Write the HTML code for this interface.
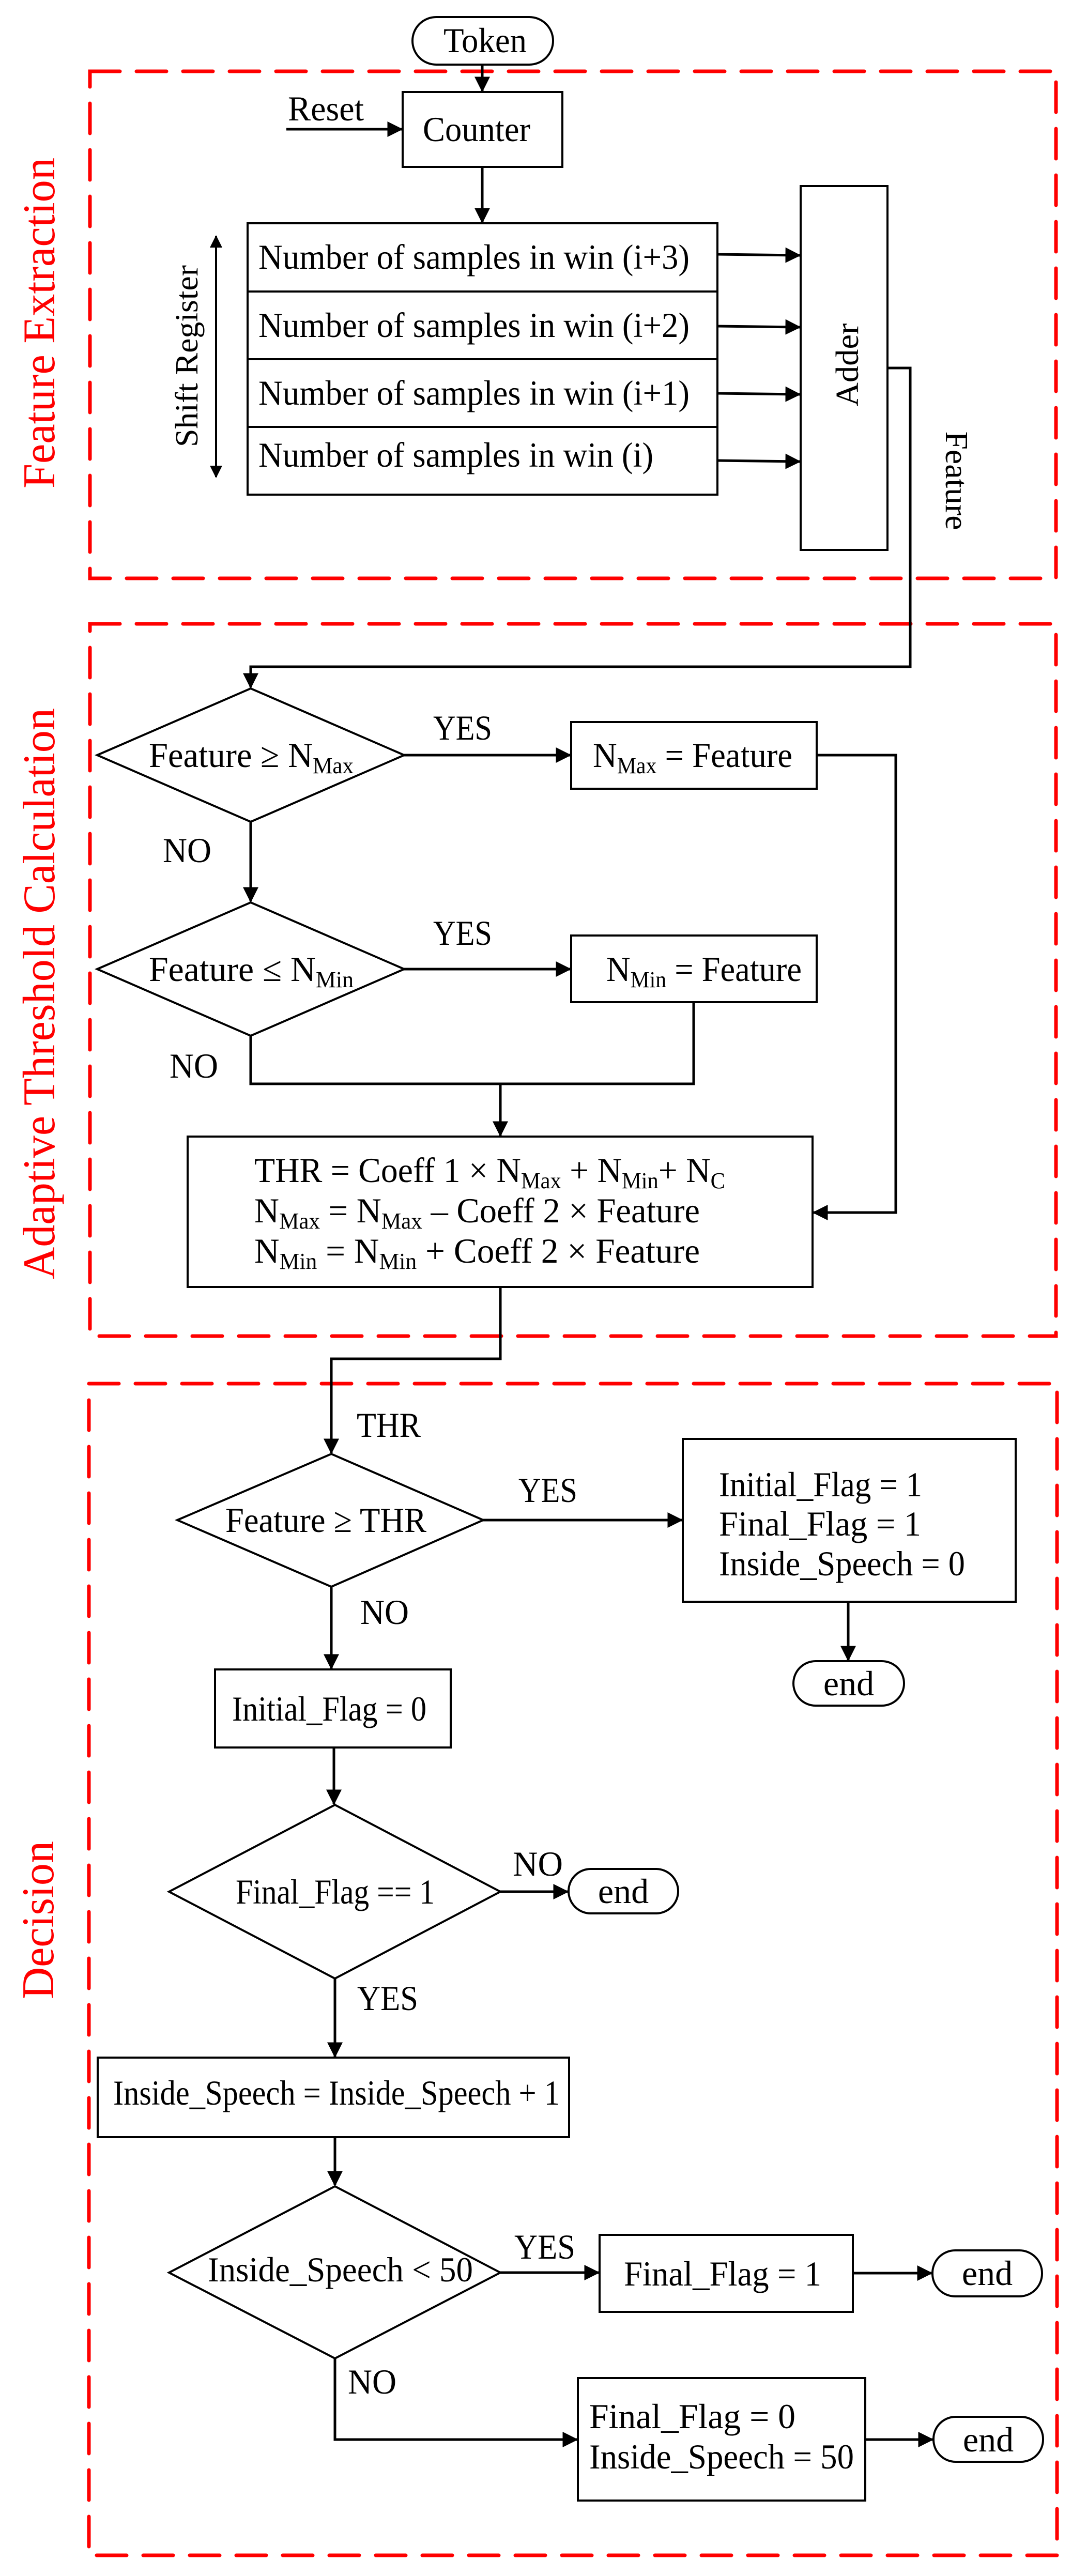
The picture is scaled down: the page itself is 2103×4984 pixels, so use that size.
<!DOCTYPE html>
<html><head><meta charset="utf-8"><style>html,body{margin:0;padding:0;background:#fff}svg{display:block}text{font-family:"Liberation Serif",serif;fill:#000}</style></head>
<body>
<svg width="2103" height="4984" viewBox="0 0 2103 4984" xmlns="http://www.w3.org/2000/svg">
<defs>
<marker id="a" markerWidth="6" markerHeight="6" refX="5.5" refY="3" orient="auto" markerUnits="strokeWidth"><path d="M0,0 L6,3 L0,6 z" fill="#000"/></marker>
<marker id="b" markerWidth="6" markerHeight="6" refX="5.5" refY="3" orient="auto-start-reverse" markerUnits="strokeWidth"><path d="M0,0 L6,3 L0,6 z" fill="#000"/></marker>
</defs>
<g fill="none" stroke="#f00" stroke-width="7" stroke-dasharray="58 32" stroke-linecap="round">
<rect x="174" y="138" width="1869" height="981"/>
<rect x="174" y="1207" width="1869" height="1378"/>
<rect x="172" y="2677" width="1873" height="2267"/>
</g>
<g font-size="88" style="fill:#f00">
<text x="105" y="945" transform="rotate(-90 105 945)" textLength="640" lengthAdjust="spacingAndGlyphs" style="fill:#f00">Feature Extraction</text>
<text x="105" y="2475" transform="rotate(-90 105 2475)" textLength="1105" lengthAdjust="spacingAndGlyphs" style="fill:#f00">Adaptive Threshold Calculation</text>
<text x="103" y="3868" transform="rotate(-90 103 3868)" textLength="306" lengthAdjust="spacingAndGlyphs" style="fill:#f00">Decision</text>
</g>
<g fill="#fff" stroke="#000" stroke-width="4">
<rect x="798" y="33" width="272" height="92" rx="46"/>
<rect x="779" y="178" width="309" height="145"/>
<rect x="479" y="432" width="909" height="525"/>
<line x1="479" y1="564" x2="1388" y2="564"/>
<line x1="479" y1="695" x2="1388" y2="695"/>
<line x1="479" y1="826" x2="1388" y2="826"/>
<rect x="1549" y="360" width="168" height="704"/>
<polygon points="188,1461 485,1332 782,1461 485,1590"/>
<rect x="1105" y="1397" width="475" height="129"/>
<polygon points="188,1875 485,1746 782,1875 485,2004"/>
<rect x="1105" y="1810" width="475" height="129"/>
<rect x="363" y="2199" width="1209" height="291"/>
<polygon points="343,2941 641,2813 935,2941 641,3070"/>
<rect x="1321" y="2784" width="644" height="315"/>
<rect x="1535" y="3214" width="214" height="86" rx="43"/>
<rect x="416" y="3230" width="456" height="151"/>
<polygon points="327,3660 648,3492 968,3660 648,3828"/>
<rect x="1100" y="3616" width="212" height="86" rx="43"/>
<rect x="189" y="3981" width="912" height="154"/>
<polygon points="327,4397 648,4230 968,4397 648,4563"/>
<rect x="1160" y="4324" width="490" height="149"/>
<rect x="1804" y="4354" width="212" height="89" rx="44"/>
<rect x="1118" y="4601" width="556" height="237"/>
<rect x="1806" y="4676" width="212" height="87" rx="43"/>
</g>
<g fill="none" stroke="#000" stroke-width="5" marker-end="url(#a)">
<line x1="933" y1="125" x2="933" y2="176"/>
<line x1="554" y1="250" x2="777" y2="250"/>
<line x1="933" y1="323" x2="933" y2="430"/>
<line x1="1388" y1="492" x2="1547" y2="494"/>
<line x1="1388" y1="631" x2="1547" y2="633"/>
<line x1="1388" y1="761" x2="1547" y2="763"/>
<line x1="1388" y1="891" x2="1547" y2="893"/>
<polyline points="1717,712 1761,712 1761,1290 485,1290 485,1330"/>
<line x1="782" y1="1461" x2="1103" y2="1461"/>
<line x1="485" y1="1590" x2="485" y2="1744"/>
<line x1="782" y1="1875" x2="1103" y2="1875"/>
<polyline points="1580,1461 1733,1461 1733,2346 1574,2346"/>
<polyline points="485,2004 485,2097 1342,2097 1342,1939" marker-end="none"/>
<line x1="968" y1="2097" x2="968" y2="2197"/>
<polyline points="968,2490 968,2629 641,2629 641,2811"/>
<line x1="935" y1="2941" x2="1319" y2="2941"/>
<line x1="1641" y1="3099" x2="1641" y2="3212"/>
<line x1="641" y1="3070" x2="641" y2="3228"/>
<line x1="646" y1="3381" x2="646" y2="3490"/>
<line x1="968" y1="3660" x2="1098" y2="3660"/>
<line x1="648" y1="3828" x2="648" y2="3979"/>
<line x1="648" y1="4135" x2="648" y2="4228"/>
<line x1="968" y1="4397" x2="1158" y2="4397"/>
<line x1="1650" y1="4398" x2="1802" y2="4398"/>
<polyline points="648,4563 648,4720 1116,4720"/>
<line x1="1674" y1="4720" x2="1804" y2="4720"/>
</g>
<line x1="418" y1="457" x2="418" y2="923" stroke="#000" stroke-width="4" marker-start="url(#b)" marker-end="url(#a)"/>
<g font-size="68" dominant-baseline="central">
<text x="858" y="78" textLength="161" lengthAdjust="spacingAndGlyphs">Token</text>
<text x="557" y="210" textLength="147" lengthAdjust="spacingAndGlyphs">Reset</text>
<text x="818" y="250" textLength="208" lengthAdjust="spacingAndGlyphs">Counter</text>
<text x="500" y="497" textLength="834" lengthAdjust="spacingAndGlyphs">Number of samples in win (i+3)</text>
<text x="500" y="629" textLength="834" lengthAdjust="spacingAndGlyphs">Number of samples in win (i+2)</text>
<text x="500" y="760" textLength="834" lengthAdjust="spacingAndGlyphs">Number of samples in win (i+1)</text>
<text x="500" y="880" textLength="764" lengthAdjust="spacingAndGlyphs">Number of samples in win (i)</text>
<text x="838" y="1408" textLength="114" lengthAdjust="spacingAndGlyphs">YES</text>
<text x="838" y="1805" textLength="114" lengthAdjust="spacingAndGlyphs">YES</text>
<text x="315" y="1645" textLength="94" lengthAdjust="spacingAndGlyphs">NO</text>
<text x="328" y="2062" textLength="94" lengthAdjust="spacingAndGlyphs">NO</text>
<text x="690" y="2757" textLength="124" lengthAdjust="spacingAndGlyphs">THR</text>
<text x="436" y="2941" textLength="389" lengthAdjust="spacingAndGlyphs">Feature ≥ THR</text>
<text x="1003" y="2883" textLength="114" lengthAdjust="spacingAndGlyphs">YES</text>
<text x="1391" y="2872" textLength="393" lengthAdjust="spacingAndGlyphs">Initial_Flag = 1</text>
<text x="1391" y="2948" textLength="391" lengthAdjust="spacingAndGlyphs">Final_Flag  = 1</text>
<text x="1391" y="3025" textLength="476" lengthAdjust="spacingAndGlyphs">Inside_Speech = 0</text>
<text x="1642" y="3257" text-anchor="middle">end</text>
<text x="697" y="3119" textLength="94" lengthAdjust="spacingAndGlyphs">NO</text>
<text x="449" y="3306" textLength="376" lengthAdjust="spacingAndGlyphs">Initial_Flag = 0</text>
<text x="456" y="3660" textLength="385" lengthAdjust="spacingAndGlyphs">Final_Flag == 1</text>
<text x="992" y="3606" textLength="97" lengthAdjust="spacingAndGlyphs">NO</text>
<text x="1206" y="3659" text-anchor="middle">end</text>
<text x="691" y="3866" textLength="118" lengthAdjust="spacingAndGlyphs">YES</text>
<text x="219" y="4049" textLength="864" lengthAdjust="spacingAndGlyphs">Inside_Speech = Inside_Speech + 1</text>
<text x="402" y="4391" textLength="513" lengthAdjust="spacingAndGlyphs">Inside_Speech &lt; 50</text>
<text x="995" y="4347" textLength="118" lengthAdjust="spacingAndGlyphs">YES</text>
<text x="1207" y="4399" textLength="382" lengthAdjust="spacingAndGlyphs">Final_Flag = 1</text>
<text x="1910" y="4398" text-anchor="middle">end</text>
<text x="673" y="4608" textLength="94" lengthAdjust="spacingAndGlyphs">NO</text>
<text x="1140" y="4675" textLength="399" lengthAdjust="spacingAndGlyphs">Final_Flag  = 0</text>
<text x="1140" y="4753" textLength="512" lengthAdjust="spacingAndGlyphs">Inside_Speech = 50</text>
<text x="1912" y="4720" text-anchor="middle">end</text>
</g>
<g font-size="62">
<text x="382" y="689" transform="rotate(-90 382 689)" text-anchor="middle" textLength="352" lengthAdjust="spacingAndGlyphs">Shift Register</text>
<text x="1660" y="706" transform="rotate(-90 1660 706)" text-anchor="middle" textLength="161" lengthAdjust="spacingAndGlyphs">Adder</text>
<text x="1830" y="930" transform="rotate(90 1830 930)" text-anchor="middle" textLength="191" lengthAdjust="spacingAndGlyphs">Feature</text>
</g>
<g font-size="68">
<text x="288" y="1484" textLength="396" lengthAdjust="spacingAndGlyphs">Feature ≥ N<tspan font-size="44" dy="12">Max</tspan></text>
<text x="1147" y="1484" textLength="386" lengthAdjust="spacingAndGlyphs">N<tspan font-size="44" dy="12">Max</tspan><tspan dy="-12"> = Feature</tspan></text>
<text x="288" y="1898" textLength="396" lengthAdjust="spacingAndGlyphs">Feature ≤ N<tspan font-size="44" dy="12">Min</tspan></text>
<text x="1173" y="1898" textLength="378" lengthAdjust="spacingAndGlyphs">N<tspan font-size="44" dy="12">Min</tspan><tspan dy="-12"> = Feature</tspan></text>
<text x="492" y="2287" textLength="911" lengthAdjust="spacingAndGlyphs">THR = Coeff 1 × N<tspan font-size="44" dy="12">Max</tspan><tspan dy="-12"> + N</tspan><tspan font-size="44" dy="12">Min</tspan><tspan dy="-12">+ N</tspan><tspan font-size="44" dy="12">C</tspan></text>
<text x="492" y="2365" textLength="862" lengthAdjust="spacingAndGlyphs">N<tspan font-size="44" dy="12">Max</tspan><tspan dy="-12"> =  N</tspan><tspan font-size="44" dy="12">Max</tspan><tspan dy="-12"> – Coeff 2 × Feature</tspan></text>
<text x="492" y="2443" textLength="862" lengthAdjust="spacingAndGlyphs">N<tspan font-size="44" dy="12">Min</tspan><tspan dy="-12">  =  N</tspan><tspan font-size="44" dy="12">Min</tspan><tspan dy="-12"> + Coeff 2 × Feature</tspan></text>
</g>
</svg>
</body></html>
